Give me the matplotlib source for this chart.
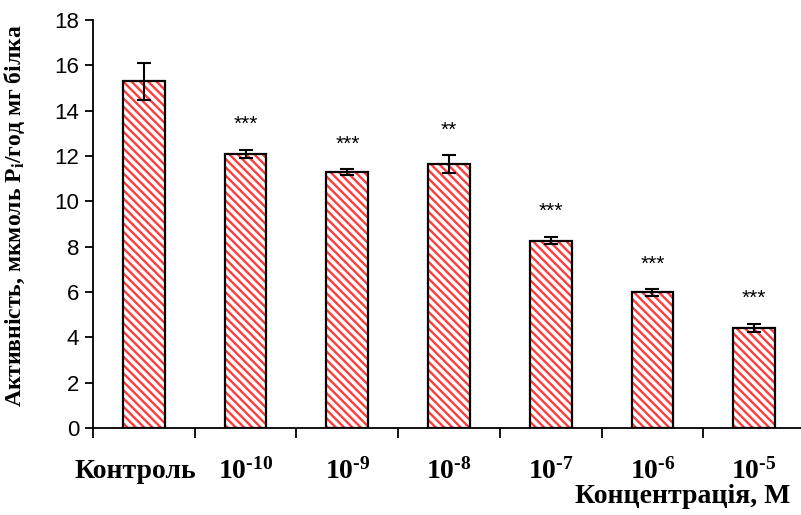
import matplotlib.pyplot as plt
import matplotlib.transforms as mtransforms
import numpy as np

plt.rcParams['mathtext.fontset'] = 'custom'
plt.rcParams['mathtext.rm'] = 'Liberation Serif:bold'
plt.rcParams['mathtext.bf'] = 'Liberation Serif:bold'
plt.rcParams['mathtext.it'] = 'Liberation Serif:bold'
plt.rcParams['hatch.linewidth'] = 1.7

labels = ["Контроль", "10$^{\u201010}$", "10$^{\u20109}$", "10$^{\u20108}$",
          "10$^{\u20107}$", "10$^{\u20106}$", "10$^{\u20105}$"]
activity = [15.3, 12.1, 11.3, 11.65, 8.27, 5.98, 4.42]
errors = [0.82, 0.18, 0.13, 0.38, 0.17, 0.14, 0.18]
marks = ["", "***", "***", "**", "***", "***", "***"]

fig = plt.figure(figsize=(8.01, 5.15), dpi=100)
ax = fig.add_axes([0.1161, 0.169, 0.889, 0.792])

x = np.arange(len(activity))
# hatched fill first, black outline on top
ax.bar(x, activity, width=0.41, color='white', edgecolor='#ff3b3b',
       hatch='\\\\\\\\', linewidth=0)
ax.bar(x, activity, width=0.41, fill=False, edgecolor='black', linewidth=1.6)
ax.errorbar(x, activity, yerr=errors, fmt='none', ecolor='black',
            elinewidth=1.5, capsize=5, capthick=1.5)

for xi, v, e, m in zip(x, activity, errors, marks):
    if m:
        ax.text(xi, v + e + 1.1, m, ha='center', va='center',
                fontsize=15, family='Liberation Sans')

ax.set_xlim(-0.5, len(activity) - 0.5)
ax.set_ylim(0, 18)
ax.set_yticks(range(0, 19, 2))
ax.set_yticklabels([str(t) for t in range(0, 19, 2)],
                   family='Liberation Sans', fontsize=16)
ax.set_xticks(x)
ax.set_xticklabels(labels, family='Liberation Serif', fontweight='bold', fontsize=20)
ax.set_xticks(np.arange(-0.5, len(activity)), minor=True)
ax.tick_params(axis='x', which='major', length=0, pad=22)
ax.tick_params(axis='x', which='minor', length=7, width=1.3, direction='out')
ax.tick_params(axis='y', length=6, width=1.3, direction='out', pad=4)

# "Контроль" sits a little left of its bar
first = ax.get_xticklabels()[0]
first.set_transform(first.get_transform() +
                    mtransforms.ScaledTranslation(-0.09, 0, fig.dpi_scale_trans))

for s in ['top', 'right']:
    ax.spines[s].set_visible(False)
ax.spines['left'].set_linewidth(1.3)
ax.spines['bottom'].set_linewidth(1.3)

ax.set_ylabel("Активність, мкмоль Р$_{і}$/год мг білка", family='Liberation Serif',
              fontweight='bold', fontsize=17)
ax.yaxis.set_label_coords(-0.092, 0.52)
fig.text(0.987, 0.012, "Концентрація, М", family='Liberation Serif',
         fontweight='bold', fontsize=20, ha='right', va='bottom')

plt.savefig("out.png", dpi=100)
